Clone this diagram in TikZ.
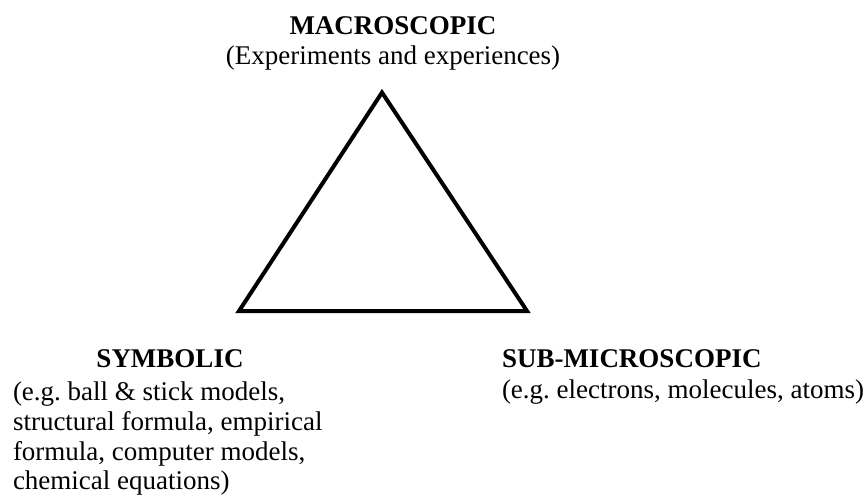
\documentclass[tikz,border=0pt]{standalone}
\usepackage{fontspec}
\setmainfont{Liberation Serif}
\frenchspacing
\begin{document}
\begin{tikzpicture}[x=1pt,y=-1pt,
  lbl/.style={inner sep=0pt,outer sep=0pt,font=\fontsize{27}{30}\selectfont},
  head/.style={lbl,font=\fontsize{27}{30}\selectfont\bfseries},
  tri/.style={line width=4pt,line join=miter,black}]
\useasboundingbox (0,0) rectangle (868,495);
% triangle corners
\coordinate (A) at (382,92.5);
\coordinate (B) at (239,311);
\coordinate (C) at (527,311);
\draw[tri] (A) -- (B) -- (C) -- cycle;
% macroscopic
\node[head,anchor=base] (mac) at (393,35) {MACROSCOPIC};
\node[lbl,anchor=base] (macsub) at (393,65) {(Experiments and experiences)};
% symbolic
\node[head,anchor=base] (sym) at (170,367) {SYMBOLIC};
\node[lbl,anchor=base west] (sym1) at (13,400) {(e.g. ball \& stick models,};
\node[lbl,anchor=base west] (sym2) at (13,430) {structural formula, empirical};
\node[lbl,anchor=base west] (sym3) at (13,460) {formula, computer models,};
\node[lbl,anchor=base west] (sym4) at (13,489) {chemical equations)};
% sub-microscopic
\node[head,anchor=base west] (sub) at (502,367) {SUB-MICROSCOPIC};
\node[lbl,anchor=base west] (sub1) at (502,398) {(e.g. electrons, molecules, atoms)};
\end{tikzpicture}
\end{document}
